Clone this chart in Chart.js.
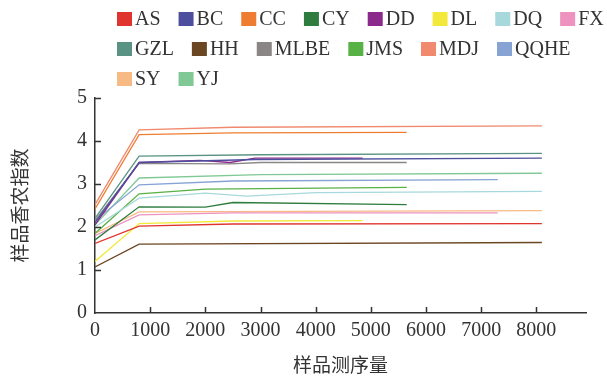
<!DOCTYPE html>
<html>
<head>
<meta charset="utf-8">
<script src="https://cdn.jsdelivr.net/npm/chart.js@4.4.0/dist/chart.umd.min.js"></script>
<style>
  html, body { margin: 0; padding: 0; background: #fff; }
  #wrap { width: 607px; height: 382px; }
</style>
</head>
<body>
<div id="wrap"><canvas id="rarefaction"></canvas></div>
<script>
'use strict';

// Sample names and their line colours
const sampleNames  = ['AS', 'BC', 'CC', 'CY', 'DD', 'DL', 'DQ', 'FX',
                      'GZL', 'HH', 'MLBE', 'JMS', 'MDJ', 'QQHE', 'SY', 'YJ'];
const sampleColors = ['#e0352f', '#4d4f9e', '#ef7d31', '#2e7d3f', '#8b2a8a', '#f3e93a', '#a7d8db', '#ee92bf',
                      '#5a9384', '#6b4623', '#898685', '#58b144', '#f0896d', '#86a3d4', '#f7ba85', '#80c996'];

// Sequencing depth (reads) and Shannon index for each sample
const depthAS   = [0, 800, 2500, 8100];              const shannonAS   = [1.62, 2.02, 2.07, 2.08];
const depthBC   = [0, 800, 2900, 8100];              const shannonBC   = [2.10, 3.50, 3.57, 3.60];
const depthCC   = [0, 800, 2500, 5650];              const shannonCC   = [2.42, 4.15, 4.19, 4.20];
const depthCY   = [0, 800, 2000, 2500, 5650];        const shannonCY   = [1.70, 2.47, 2.46, 2.57, 2.52];
const depthDD   = [0, 800, 1900, 2450, 2900, 4850];  const shannonDD   = [2.05, 3.50, 3.55, 3.50, 3.60, 3.60];
const depthDL   = [0, 800, 2500, 4850];              const shannonDL   = [1.20, 2.08, 2.14, 2.15];
const depthDQ   = [0, 800, 2000, 2750, 4000, 8100];  const shannonDQ   = [2.00, 2.67, 2.79, 2.72, 2.80, 2.83];
const depthFX   = [0, 800, 2500, 7300];              const shannonFX   = [1.80, 2.28, 2.33, 2.33];
const depthGZL  = [0, 800, 3000, 8100];              const shannonGZL  = [2.20, 3.65, 3.68, 3.71];
const depthHH   = [0, 800, 8100];                    const shannonHH   = [1.07, 1.60, 1.64];
const depthMLBE = [0, 800, 2450, 3000, 5650];        const shannonMLBE = [2.15, 3.48, 3.47, 3.50, 3.50];
const depthJMS  = [0, 800, 2000, 5650];              const shannonJMS  = [1.85, 2.77, 2.88, 2.92];
const depthMDJ  = [0, 800, 2500, 8100];              const shannonMDJ  = [2.52, 4.26, 4.32, 4.35];
const depthQQHE = [0, 800, 2500, 7300];              const shannonQQHE = [2.15, 2.98, 3.07, 3.10];
const depthSY   = [0, 800, 8100];                    const shannonSY   = [1.85, 2.35, 2.38];
const depthYJ   = [0, 800, 3000, 8100];              const shannonYJ   = [2.05, 3.14, 3.22, 3.25];

const depths   = [depthAS, depthBC, depthCC, depthCY, depthDD, depthDL, depthDQ, depthFX,
                  depthGZL, depthHH, depthMLBE, depthJMS, depthMDJ, depthQQHE, depthSY, depthYJ];
const shannons = [shannonAS, shannonBC, shannonCC, shannonCY, shannonDD, shannonDL, shannonDQ, shannonFX,
                  shannonGZL, shannonHH, shannonMLBE, shannonJMS, shannonMDJ, shannonQQHE, shannonSY, shannonYJ];

// Axis ticks
const xTicks = [0, 1000, 2000, 3000, 4000, 5000, 6000, 7000, 8000];
const yTicks = [0, 1, 2, 3, 4, 5];

// Items per legend row
const legendRows = [8, 6, 2];

const TEXT = '#333';
const SERIF = '"Liberation Serif", "Times New Roman", serif';
const CJK = '"Noto Sans CJK SC", sans-serif';

// Legend drawn as left-aligned rows of swatch + name above the plot
const flowLegend = {
  id: 'flowLegend',
  afterDraw(chart) {
    const ctx = chart.ctx;
    ctx.save();
    ctx.font = '20px ' + SERIF;
    ctx.textBaseline = 'middle';
    let i = 0;
    legendRows.forEach((count, row) => {
      let x = 117;
      const y = 19 + row * 30;
      for (let k = 0; k < count; k++, i++) {
        ctx.fillStyle = sampleColors[i];
        ctx.fillRect(x, y - 7, 15, 14);
        ctx.fillStyle = TEXT;
        ctx.fillText(sampleNames[i], x + 18, y + 1);
        x += 18 + ctx.measureText(sampleNames[i]).width + 18;
      }
    });
    ctx.restore();
  }
};

// Short tick marks pointing into the plot area
const innerTicks = {
  id: 'innerTicks',
  afterDatasetsDraw(chart) {
    const { ctx, chartArea, scales: { x, y } } = chart;
    ctx.save();
    ctx.strokeStyle = TEXT;
    ctx.lineWidth = 1.5;
    ctx.beginPath();
    x.ticks.forEach(t => {
      if (t.value === 0) return;
      const px = Math.round(x.getPixelForValue(t.value)) + 0.5;
      ctx.moveTo(px, chartArea.bottom);
      ctx.lineTo(px, chartArea.bottom - 6);
    });
    y.ticks.forEach(t => {
      if (t.value === 0) return;
      const py = Math.round(y.getPixelForValue(t.value)) + 0.5;
      ctx.moveTo(chartArea.left, py);
      ctx.lineTo(chartArea.left + 6, py);
    });
    ctx.stroke();
    ctx.restore();
  }
};

const datasets = sampleNames.map((name, i) => ({
  label: name,
  data: depths[i].map((d, k) => ({ x: d, y: shannons[i][k] })),
  borderColor: sampleColors[i],
  backgroundColor: sampleColors[i],
  borderWidth: 1.3,
  pointRadius: 0,
  tension: 0,
  fill: false,
}));

new Chart(document.getElementById('rarefaction'), {
  type: 'line',
  data: { datasets },
  plugins: [flowLegend, innerTicks],
  options: {
    responsive: true,
    maintainAspectRatio: false,
    animation: false,
    layout: { padding: { top: 98, right: 21, bottom: 0, left: 0 } },
    plugins: {
      legend: { display: false },
      tooltip: { enabled: false },
    },
    scales: {
      x: {
        type: 'linear',
        min: 0, max: 8900,
        afterBuildTicks: s => { s.ticks = xTicks.map(v => ({ value: v })); },
        afterFit: s => { s.height = 69; },
        grid: { display: false, drawTicks: false },
        border: { color: TEXT, width: 1.5 },
        ticks: {
          color: TEXT, font: { family: SERIF, size: 20 }, padding: 6,
          maxRotation: 0, autoSkip: false, callback: v => String(v),
        },
        title: {
          display: true, text: '样品测序量', color: TEXT,
          font: { family: CJK, size: 19 }, padding: { top: 0, bottom: 6 },
        },
      },
      y: {
        min: 0, max: 5,
        afterBuildTicks: s => { s.ticks = yTicks.map(v => ({ value: v })); },
        afterFit: s => { s.width = 95; },
        grid: { display: false, drawTicks: false },
        border: { color: TEXT, width: 1.5 },
        ticks: { color: TEXT, font: { family: SERIF, size: 20 }, padding: 8, callback: v => String(v) },
        title: {
          display: true, text: '样品香农指数', color: TEXT,
          font: { family: CJK, size: 19 }, padding: { top: 8, bottom: 0 },
        },
      },
    },
  },
});
</script>
</body>
</html>
